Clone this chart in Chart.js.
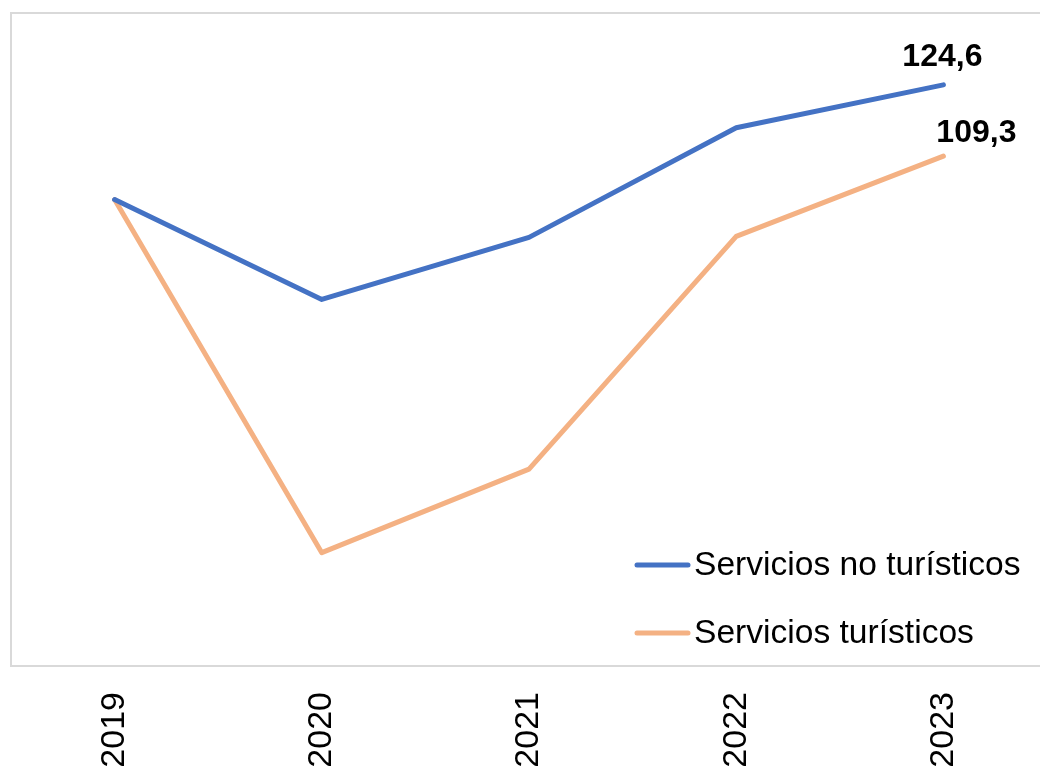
<!DOCTYPE html>
<html>
<head>
<meta charset="utf-8">
<script src="https://cdn.jsdelivr.net/npm/chart.js@4/dist/chart.umd.min.js"></script>
<style>
  html, body { margin: 0; padding: 0; background: #fff; overflow: hidden; }
</style>
</head>
<body>
<canvas id="serviciosChart" width="1050" height="800"></canvas>
<script>
// Data
const years = ['2019', '2020', '2021', '2022', '2023'];
const noTuristicos = [100, 78.6, 91.9, 115.4, 124.6];
const turisticos = [100, 24.3, 42.2, 92.1, 109.3];

const FONT = "'Liberation Sans', Arial, sans-serif";

// Light gray box round the plot area
const plotBorder = {
    id: 'plotBorder',
    beforeDatasetsDraw(chart) {
        const { ctx, chartArea } = chart;
        ctx.save();
        ctx.strokeStyle = '#d9d9d9';
        ctx.lineWidth = 2;
        ctx.strokeRect(chartArea.left, chartArea.top, chartArea.right - chartArea.left, chartArea.bottom - chartArea.top);
        ctx.restore();
    }
};

// Value label on the last point of each line
const endLabels = {
    id: 'endLabels',
    afterDatasetsDraw(chart) {
        const { ctx } = chart;
        const offsets = [[-1, -28], [33, -23]];
        ctx.save();
        ctx.font = 'bold 32px ' + FONT;
        ctx.fillStyle = '#000';
        ctx.textAlign = 'center';
        ctx.textBaseline = 'middle';
        chart.data.datasets.forEach((ds, i) => {
            const meta = chart.getDatasetMeta(i);
            const last = meta.data[meta.data.length - 1];
            const v = ds.data[ds.data.length - 1];
            ctx.fillText(v.toFixed(1).replace('.', ','), last.x + offsets[i][0], last.y + offsets[i][1]);
        });
        ctx.restore();
    }
};

// Legend drawn inside the plot, bottom right
const innerLegend = {
    id: 'innerLegend',
    afterDatasetsDraw(chart) {
        const { ctx, chartArea } = chart;
        const rows = [chartArea.bottom - 101, chartArea.bottom - 33];
        ctx.save();
        ctx.font = '33.6px ' + FONT;
        ctx.textAlign = 'left';
        ctx.textBaseline = 'middle';
        ctx.lineCap = 'round';
        chart.data.datasets.forEach((ds, i) => {
            const y = rows[i];
            ctx.strokeStyle = ds.borderColor;
            ctx.lineWidth = 5;
            ctx.beginPath();
            ctx.moveTo(637, y);
            ctx.lineTo(688, y);
            ctx.stroke();
            ctx.fillStyle = '#000';
            ctx.fillText(ds.label, 694, y + 1);
        });
        ctx.restore();
    }
};

const config = {
    type: 'line',
    data: {
        labels: years,
        datasets: [{
            label: 'Servicios no turísticos',
            data: noTuristicos,
            borderColor: '#4472c4',
            borderWidth: 5,
            pointRadius: 0,
            borderCapStyle: 'round',
            borderJoinStyle: 'round',
            tension: 0
        }, {
            label: 'Servicios turísticos',
            data: turisticos,
            borderColor: '#f4b183',
            borderWidth: 5,
            pointRadius: 0,
            borderCapStyle: 'round',
            borderJoinStyle: 'round',
            tension: 0
        }]
    },
    options: {
        responsive: false,
        animation: false,
        devicePixelRatio: 1,
        layout: {
            padding: { left: 11, top: 13, right: 3, bottom: 0 }
        },
        plugins: {
            legend: { display: false },
            tooltip: { enabled: false }
        },
        scales: {
            x: {
                offset: true,
                grid: { display: false, drawTicks: false },
                border: { display: false },
                ticks: {
                    minRotation: 90,
                    maxRotation: 90,
                    padding: 26,
                    color: '#000',
                    font: { family: FONT, size: 34 }
                },
                afterFit(scale) {
                    scale.height = 134;
                }
            },
            y: {
                display: false,
                min: 0,
                max: 140
            }
        }
    },
    plugins: [plotBorder, endLabels, innerLegend]
};

const ctx = document.getElementById('serviciosChart').getContext('2d');
new Chart(ctx, config);
</script>
</body>
</html>
